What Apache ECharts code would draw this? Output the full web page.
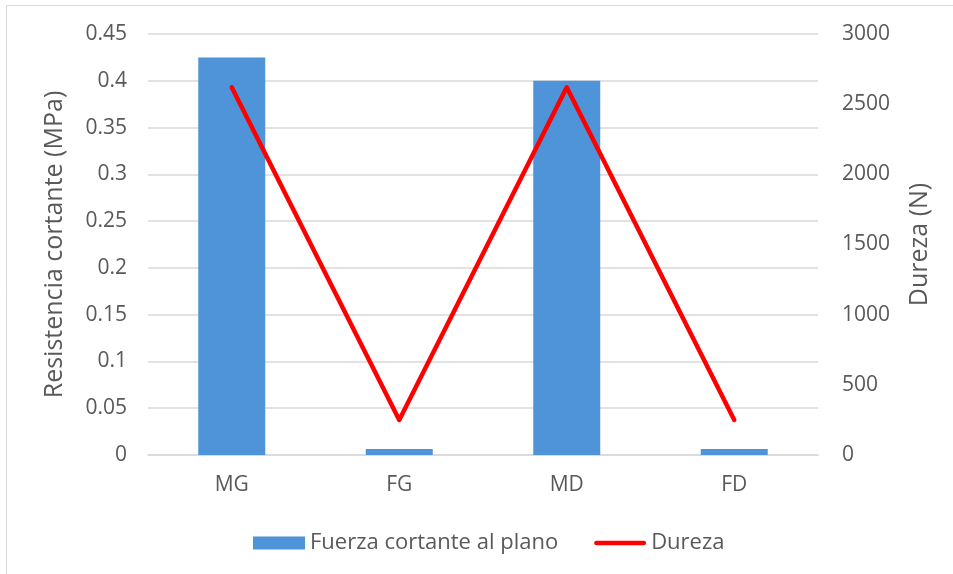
<!DOCTYPE html>
<html>
<head>
<meta charset="utf-8">
<script src="https://cdn.jsdelivr.net/npm/echarts@6/dist/echarts.min.js"></script>
<style>
  html, body { margin: 0; padding: 0; background: #fff; }
  #chart { width: 953px; height: 574px; }
</style>
</head>
<body>
<div id="chart"></div>
<script>
// Sample categories
const categories = ['MG', 'FG', 'MD', 'FD'];
// In-plane shear strength (MPa)
const fuerzaCortante = [0.425, 0.0065, 0.40, 0.0065];
// Hardness (N)
const dureza = [2620, 250, 2620, 250];

const FONT = "'Open Sans', 'Liberation Sans', sans-serif";
const TEXT = '#595959';

const chart = echarts.init(document.getElementById('chart'), null, { renderer: 'canvas' });

chart.setOption({
  backgroundColor: '#ffffff',
  animation: false,
  textStyle: { fontFamily: FONT, color: TEXT },
  graphic: [{
    type: 'rect',
    shape: { x: 6.5, y: 5.5, width: 1000, height: 1000 },
    style: { fill: 'none', stroke: '#d9d9d9', lineWidth: 1 },
    silent: true
  }],
  grid: { left: 148, right: 135, top: 34, bottom: 119 },
  legend: {
    top: 527,
    left: 248,
    itemWidth: 52,
    itemHeight: 13,
    itemGap: 36,
    textStyle: { fontFamily: FONT, fontSize: 22, color: TEXT },
    data: [
      { name: 'Fuerza cortante al plano', icon: 'rect' },
      {
        name: 'Dureza',
        icon: 'path://M2.5,0 L53.5,0 A2.5,2.5 0 0 1 53.5,5 L2.5,5 A2.5,2.5 0 0 1 2.5,0 Z',
        symbolKeepAspect: true
      }
    ]
  },
  xAxis: {
    type: 'category',
    data: categories,
    axisLine: { show: true, lineStyle: { color: '#d9d9d9', width: 1.5 } },
    axisTick: { show: false },
    axisLabel: { fontFamily: FONT, fontSize: 21, color: TEXT, margin: 20 }
  },
  yAxis: [{
    type: 'value',
    min: 0, max: 0.45, interval: 0.05,
    name: 'Resistencia cortante (MPa)',
    nameLocation: 'middle',
    nameGap: 81,
    nameTextStyle: { fontFamily: FONT, fontSize: 25, color: TEXT },
    axisLine: { show: false },
    axisTick: { show: false },
    axisLabel: {
      fontFamily: FONT, fontSize: 21, color: TEXT, margin: 21,
      formatter: v => String(parseFloat(v.toFixed(2)))
    },
    splitLine: { lineStyle: { color: '#d9d9d9', width: 1.5 } }
  }, {
    type: 'value',
    min: 0, max: 3000, interval: 500,
    name: 'Dureza (N)',
    nameLocation: 'middle',
    nameGap: 89,
    nameRotate: 90,
    nameTextStyle: { fontFamily: FONT, fontSize: 25, color: TEXT },
    axisLine: { show: false },
    axisTick: { show: false },
    axisLabel: {
      fontFamily: FONT, fontSize: 21, color: TEXT, margin: 24,
      formatter: v => String(v)
    },
    splitLine: { show: false }
  }],
  series: [{
    name: 'Fuerza cortante al plano',
    type: 'bar',
    yAxisIndex: 0,
    data: fuerzaCortante,
    barWidth: '40%',
    itemStyle: { color: '#4f94d8' }
  }, {
    name: 'Dureza',
    type: 'line',
    yAxisIndex: 1,
    data: dureza,
    symbol: 'none',
    lineStyle: { color: '#ff0000', width: 4.5, cap: 'round', join: 'round' },
    itemStyle: { color: '#ff0000' }
  }]
});
</script>
</body>
</html>
